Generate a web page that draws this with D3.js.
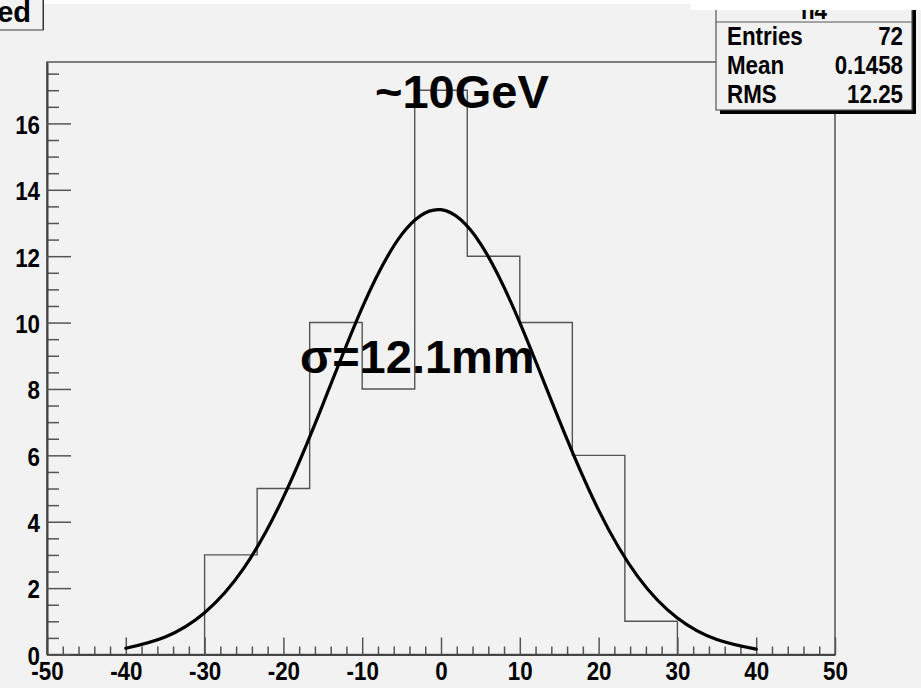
<!DOCTYPE html>
<html>
<head>
<meta charset="utf-8">
<script src="https://cdn.jsdelivr.net/npm/d3@7"></script>
<style>
body { margin: 0; background: #fff; }
svg { display: block; font-family: "Liberation Sans", Arial, Helvetica, sans-serif; font-weight: bold; }
</style>
</head>
<body>
<svg width="921" height="688"></svg>
<script>
// histogram h4: 9 bins between -30 and 30
var binCounts = [3, 5, 10, 8, 17, 12, 10, 6, 1];
var binRange = [-30, 30];

// gaussian fit, every 5 units
var fitX = [-40, -35, -30, -25, -20, -15, -10, -5, 0, 5, 10, 15, 20, 25, 30, 35, 40];
var fitY = [0.19, 0.53, 1.26, 2.61, 4.74, 7.53, 10.45, 12.65, 13.4, 12.38, 10.0, 7.06, 4.35, 2.34, 1.10, 0.45, 0.16];

var xTickValues = [-50, -40, -30, -20, -10, 0, 10, 20, 30, 40, 50];
var yTickValues = [0, 2, 4, 6, 8, 10, 12, 14, 16];
var xDomain = [-50, 50];
var yDomain = [0, 17.85];

var statsTitle = "h4";
var statsLabels = ["Entries", "Mean", "RMS"];
var statsValues = ["72", "0.1458", "12.25"];

var energyLabel = "~10GeV";
var sigmaLabel = "σ=12.1mm";
var legendText = "ed";

var svg = d3.select("svg");
var squeeze = 0.86;

svg.append("rect").attr("width", 921).attr("height", 688).attr("fill", "#f2f2f2");

var x = d3.scaleLinear().domain(xDomain).range([47, 835]);
var y = d3.scaleLinear().domain(yDomain).range([654.5, 62]);

// frame
svg.append("rect")
    .attr("x", x(xDomain[0]))
    .attr("y", y(yDomain[1]))
    .attr("width", x(xDomain[1]) - x(xDomain[0]))
    .attr("height", y(yDomain[0]) - y(yDomain[1]))
    .attr("fill", "none")
    .attr("stroke", "#555")
    .attr("stroke-width", 1.5);

// minor ticks
var xMinor = d3.range(xDomain[0], xDomain[1] + 0.001, 2).filter(function (v) { return v % 10 !== 0; });
var yMinor = d3.range(0, yDomain[1], 0.5).filter(function (v) { return v % 2 !== 0; });

svg.append("g")
    .attr("class", "minor")
    .attr("transform", "translate(0," + y(0) + ")")
    .call(d3.axisBottom(x).tickValues(xMinor).tickSizeInner(-8).tickSizeOuter(0).tickFormat(""));

svg.append("g")
    .attr("class", "minor")
    .attr("transform", "translate(" + x(xDomain[0]) + ",0)")
    .call(d3.axisLeft(y).tickValues(yMinor).tickSizeInner(-12).tickSizeOuter(0).tickFormat(""));

// major ticks, plain hyphen for negatives
var plain = function (d) { return String(d); };

var xaxis = svg.append("g")
    .attr("class", "major")
    .attr("transform", "translate(0," + y(0) + ")")
    .call(d3.axisBottom(x).tickValues(xTickValues).tickSizeInner(-17).tickSizeOuter(0).tickPadding(7).tickFormat(plain));

var yaxis = svg.append("g")
    .attr("class", "major")
    .attr("transform", "translate(" + x(xDomain[0]) + ",0)")
    .call(d3.axisLeft(y).tickValues(yTickValues).tickSizeInner(-24).tickSizeOuter(0).tickPadding(7).tickFormat(plain));

svg.selectAll(".minor, .major").attr("font-family", null).attr("font-size", null);
svg.selectAll(".minor .domain").remove();
svg.selectAll(".minor .tick line").attr("stroke", "#555").attr("stroke-width", 1.5);
svg.selectAll(".major .tick line").attr("stroke", "#555").attr("stroke-width", 1.5);
svg.selectAll(".major .domain").attr("stroke", "#444").attr("stroke-width", 2);
svg.selectAll(".major text")
    .attr("fill", "#000")
    .style("font-size", "26px")
    .attr("transform", "scale(" + squeeze + ",1)");
yaxis.selectAll("text").attr("x", -7 / squeeze).attr("dy", "0.38em");

// histogram outline
var edges = d3.range(binCounts.length + 1).map(function (i) {
    return binRange[0] + i * (binRange[1] - binRange[0]) / binCounts.length;
});
var histPts = [[edges[0], 0]];
binCounts.forEach(function (c, i) {
    histPts.push([edges[i], c]);
    histPts.push([edges[i + 1], c]);
});
histPts.push([edges[edges.length - 1], 0]);

svg.append("path")
    .datum(histPts)
    .attr("fill", "none")
    .attr("stroke", "#555")
    .attr("stroke-width", 1.4)
    .attr("d", d3.line()
        .x(function (d) { return x(d[0]); })
        .y(function (d) { return y(d[1]); }));

// fit curve
svg.append("path")
    .datum(fitX.map(function (v, i) { return [v, fitY[i]]; }))
    .attr("fill", "none")
    .attr("stroke", "#000")
    .attr("stroke-width", 3.2)
    .attr("stroke-linecap", "round")
    .attr("d", d3.line()
        .curve(d3.curveNatural)
        .x(function (d) { return x(d[0]); })
        .y(function (d) { return y(d[1]); }));

// annotations
svg.append("text")
    .attr("x", 375).attr("y", 108)
    .style("font-size", "47px")
    .text(energyLabel);

svg.append("text")
    .attr("x", 300).attr("y", 373)
    .style("font-size", "47px")
    .text(sigmaLabel);

// stats box
var sb = { x: 716, y: -20, w: 196, h: 130 };
svg.append("rect")
    .attr("x", sb.x + 4).attr("y", sb.y + 4)
    .attr("width", sb.w).attr("height", sb.h)
    .attr("fill", "#000");
svg.append("rect")
    .attr("x", sb.x).attr("y", sb.y)
    .attr("width", sb.w).attr("height", sb.h)
    .attr("fill", "#f2f2f2")
    .attr("stroke", "#555")
    .attr("stroke-width", 1.2);
svg.append("line")
    .attr("x1", sb.x).attr("x2", sb.x + sb.w)
    .attr("y1", 22).attr("y2", 22)
    .attr("stroke", "#555").attr("stroke-width", 1.2);
svg.append("text")
    .attr("transform", "translate(" + (sb.x + sb.w / 2) + ",19) scale(" + squeeze + ",1)")
    .attr("text-anchor", "middle")
    .style("font-size", "26px")
    .text(statsTitle);

var rowY = d3.scalePoint().domain(statsLabels).range([45, 103]);
svg.selectAll(".slabel")
    .data(statsLabels)
    .enter().append("text")
    .attr("transform", function (d) { return "translate(727," + rowY(d) + ") scale(" + squeeze + ",1)"; })
    .style("font-size", "26px")
    .text(function (d) { return d; });
svg.selectAll(".svalue")
    .data(statsValues)
    .enter().append("text")
    .attr("transform", function (d, i) { return "translate(903," + rowY(statsLabels[i]) + ") scale(" + squeeze + ",1)"; })
    .attr("text-anchor", "end")
    .style("font-size", "26px")
    .text(function (d) { return d; });

// white strip along the top edge of the screenshot
svg.append("rect").attr("width", 921).attr("height", 4).attr("fill", "#fff");
svg.append("rect").attr("x", 690).attr("width", 231).attr("height", 10).attr("fill", "#fff");

// legend box, cut off at top left
svg.append("rect")
    .attr("x", -56).attr("y", -6)
    .attr("width", 100).attr("height", 36)
    .attr("fill", "#000");
svg.append("rect")
    .attr("x", -60).attr("y", -10)
    .attr("width", 103).attr("height", 40)
    .attr("fill", "#f2f2f2")
    .attr("stroke", "#555")
    .attr("stroke-width", 1.2);
svg.append("text")
    .attr("x", 31).attr("y", 22)
    .attr("text-anchor", "end")
    .style("font-size", "29px")
    .text(legendText);
</script>
</body>
</html>
